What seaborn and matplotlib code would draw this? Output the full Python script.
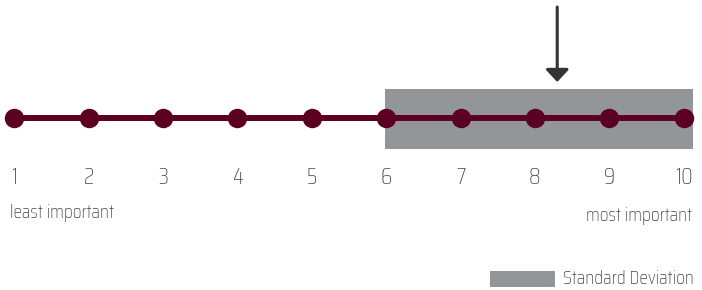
import matplotlib
matplotlib.use("Agg")
import matplotlib.pyplot as plt
import seaborn as sns
import pandas as pd
from matplotlib.patches import Rectangle

scale_values = [1, 2, 3, 4, 5, 6, 7, 8, 9, 10]
tick_labels = ["1", "2", "3", "4", "5", "6", "7", "8", "9", "10"]
mean_value = 8.3
sd_low, sd_high = 5.98, 10.12
low_label = "least important"
high_label = "most important"
legend_label = "Standard Deviation"

LINE_COLOR = "#5c0022"
BOX_COLOR = "#929699"
TEXT_COLOR = "#444444"
ARROW_COLOR = "#333333"

# pixel layout helpers: value 1 sits at X0 px, STEP px per unit
X0, STEP = 14.4, 74.36


def px(x):
    return 1 + (x - X0) / STEP


sns.set_style("white")
plt.rcParams["font.family"] = ["Saira Condensed", "DejaVu Sans"]
plt.rcParams["font.weight"] = "light"

fig = plt.figure(figsize=(7.02, 2.90), dpi=100)
ax = fig.add_axes([0, 0, 1, 1])

line_y = 118
ax.add_patch(Rectangle((sd_low, 89), sd_high - sd_low, 60, color=BOX_COLOR, lw=0, zorder=1))

df = pd.DataFrame({"x": scale_values, "y": [line_y] * len(scale_values)})
sns.lineplot(data=df, x="x", y="y", color=LINE_COLOR, lw=4.3, marker="o",
             markersize=14, markeredgewidth=0, ax=ax, zorder=3)
ax.set_xlim(px(0), px(702))
ax.set_ylim(290, 0)
ax.axis("off")

ax.annotate("", xy=(mean_value, 82), xytext=(mean_value, 7),
            arrowprops=dict(arrowstyle="-|>,head_length=0.75,head_width=0.7",
                            color=ARROW_COLOR, lw=2.2, shrinkA=0, shrinkB=0))

for v, lab in zip(scale_values, tick_labels):
    ax.text(v, 177, lab, ha="center", va="center", fontsize=17, color=TEXT_COLOR)

ax.text(px(10), 213, low_label, ha="left", va="center", fontsize=14.2, color=TEXT_COLOR)
ax.text(px(692), 216, high_label, ha="right", va="center", fontsize=14.2, color=TEXT_COLOR)

ax.add_patch(Rectangle((px(490), 271), px(555) - px(490), 16, color=BOX_COLOR, lw=0))
ax.text(px(563), 279, legend_label, ha="left", va="center",
        fontsize=14.2, color=TEXT_COLOR)

fig.savefig("out.png", dpi=100)
